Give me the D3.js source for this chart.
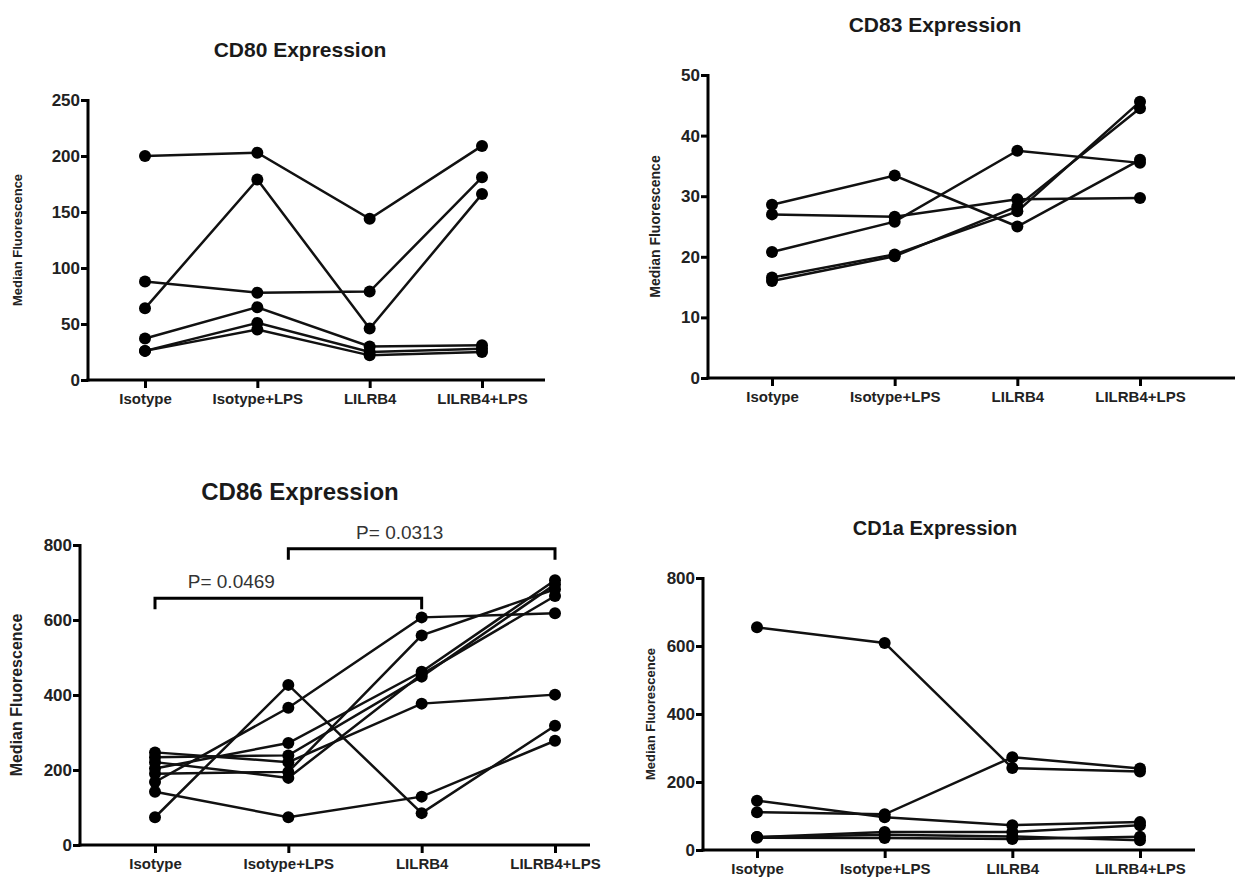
<!DOCTYPE html>
<html>
<head>
<meta charset="utf-8">
<script src="https://cdn.jsdelivr.net/npm/d3@7"></script>
<style>
  body { margin: 0; background: #fff; }
  svg { display: block; font-family: "Liberation Sans", Arial, sans-serif; }
</style>
</head>
<body>
<svg width="1254" height="888"></svg>
<script>
var categories = ['Isotype', 'Isotype+LPS', 'LILRB4', 'LILRB4+LPS'];

// one array per donor, values in category order
var cd80Series = [
    [200, 203, 144, 209],
    [64, 179, 46, 166],
    [88, 78, 79, 181],
    [37, 65, 30, 31],
    [26, 51, 25, 28],
    [26, 45, 22, 25]
];
var cd83Series = [
    [28.6, 33.4, 25, 36],
    [27, 26.6, 29.5, 29.7],
    [20.8, 25.8, 37.5, 35.5],
    [16.6, 20.4, 27.5, 45.6],
    [16, 20.1, 28.3, 44.5]
];
var cd86Series = [
    [74, 427, 85, 318],
    [142, 74, 129, 278],
    [168, 366, 607, 618],
    [204, 272, 462, 706],
    [234, 239, 449, 695],
    [247, 221, 377, 401],
    [190, 195, 559, 682],
    [221, 179, 455, 664]
];
var cd1aSeries = [
    [655, 609, 241, 231],
    [145, 96, 73, 82],
    [111, 105, 273, 240],
    [38, 53, 53, 73],
    [36, 35, 32, 39],
    [38, 45, 40, 29]
];

var cd80Ticks = [0, 50, 100, 150, 200, 250];
var cd83Ticks = [0, 10, 20, 30, 40, 50];
var cd86Ticks = [0, 200, 400, 600, 800];
var cd1aTicks = [0, 200, 400, 600, 800];

var cd86Pvalues = [
    { from: 'Isotype', to: 'LILRB4', level: 658, label: 'P= 0.0469' },
    { from: 'Isotype+LPS', to: 'LILRB4+LPS', level: 790, label: 'P= 0.0313' }
];

var panels = [
    { title: 'CD80 Expression', series: cd80Series, ticks: cd80Ticks,
      x0: 88, x1: 545, first: 145, last: 482, top: 100, bottom: 380,
      titleY: 57, titleSize: 21, titleX: 300, labelX: 22, labelSize: 13 },
    { title: 'CD83 Expression', series: cd83Series, ticks: cd83Ticks,
      x0: 708, x1: 1235, first: 772, last: 1140, top: 75, bottom: 378,
      titleY: 32, titleSize: 21, titleX: 935, labelX: 660, labelSize: 14 },
    { title: 'CD86 Expression', series: cd86Series, ticks: cd86Ticks,
      x0: 80, x1: 590, first: 155, last: 555, top: 545, bottom: 845,
      titleY: 500, titleSize: 24, titleX: 300, labelX: 22, labelSize: 16,
      pvalues: cd86Pvalues, pvalueDx: [-57, -22] },
    { title: 'CD1a Expression', series: cd1aSeries, ticks: cd1aTicks,
      x0: 703, x1: 1195, first: 757, last: 1140, top: 578, bottom: 850,
      titleY: 535, titleSize: 20, titleX: 935, labelX: 655, labelSize: 13 }
];

var svg = d3.select('svg');

panels.forEach(drawPanel);

function drawPanel(p) {
    var g = svg.append('g');

    var x = d3.scalePoint()
        .domain(categories)
        .range([p.first, p.last]);

    var y = d3.scaleLinear()
        .domain([0, d3.max(p.ticks)])
        .range([p.bottom, p.top]);

    var yAxis = d3.axisLeft(y)
        .tickValues(p.ticks)
        .tickSize(7)
        .tickPadding(1)
        .tickSizeOuter(0);

    var ya = g.append('g')
        .attr('transform', 'translate(' + p.x0 + ',0)')
        .call(yAxis);
    ya.select('.domain').attr('d', 'M0,' + (p.bottom + 1.5) + 'V' + (p.top - 1));

    var xAxis = d3.axisBottom(x)
        .tickSize(8)
        .tickPadding(5)
        .tickSizeOuter(0);

    var xa = g.append('g')
        .attr('transform', 'translate(0,' + p.bottom + ')')
        .call(xAxis);
    xa.select('.domain').attr('d', 'M' + (p.x0 - 1.5) + ',0H' + p.x1);

    g.selectAll('.domain, .tick line')
        .attr('stroke', '#000')
        .attr('stroke-width', 3);

    g.selectAll('.tick text')
        .attr('fill', '#222')
        .attr('font-size', 15)
        .attr('font-weight', 'bold');
    ya.selectAll('.tick text').attr('font-size', 17);

    g.append('text')
        .attr('x', p.titleX)
        .attr('y', p.titleY)
        .attr('text-anchor', 'middle')
        .attr('font-size', p.titleSize)
        .attr('font-weight', 'bold')
        .attr('fill', '#1a1a1a')
        .text(p.title);

    g.append('text')
        .attr('transform', 'translate(' + p.labelX + ',' + ((p.top + p.bottom) / 2) + ') rotate(-90)')
        .attr('text-anchor', 'middle')
        .attr('font-size', p.labelSize)
        .attr('font-weight', 'bold')
        .attr('fill', '#222')
        .text('Median Fluorescence');

    var line = d3.line()
        .x((d, i) => x(categories[i]))
        .y(d => y(d));

    g.selectAll('path.donor')
        .data(p.series)
        .enter()
        .append('path')
        .attr('class', 'donor')
        .attr('d', d => line(d))
        .attr('fill', 'none')
        .attr('stroke', '#111')
        .attr('stroke-width', 2.5);

    var points = [];
    p.series.forEach(s => s.forEach((v, i) => points.push([categories[i], v])));

    g.selectAll('circle')
        .data(points)
        .enter()
        .append('circle')
        .attr('cx', d => x(d[0]))
        .attr('cy', d => y(d[1]))
        .attr('r', 6)
        .attr('fill', '#000');

    if (p.pvalues) {
        var br = g.selectAll('g.pval')
            .data(p.pvalues)
            .enter()
            .append('g')
            .attr('class', 'pval');

        br.append('path')
            .attr('d', d => {
                var yy = y(d.level);
                return 'M' + x(d.from) + ',' + (yy + 11) + 'V' + yy + 'H' + x(d.to) + 'V' + (yy + 11);
            })
            .attr('fill', 'none')
            .attr('stroke', '#000')
            .attr('stroke-width', 3);

        br.append('text')
            .attr('x', (d, i) => (x(d.from) + x(d.to)) / 2 + p.pvalueDx[i])
            .attr('y', d => y(d.level) - 10)
            .attr('text-anchor', 'middle')
            .attr('font-size', 19)
            .attr('fill', '#333')
            .text(d => d.label);
    }
}
</script>
</body>
</html>
